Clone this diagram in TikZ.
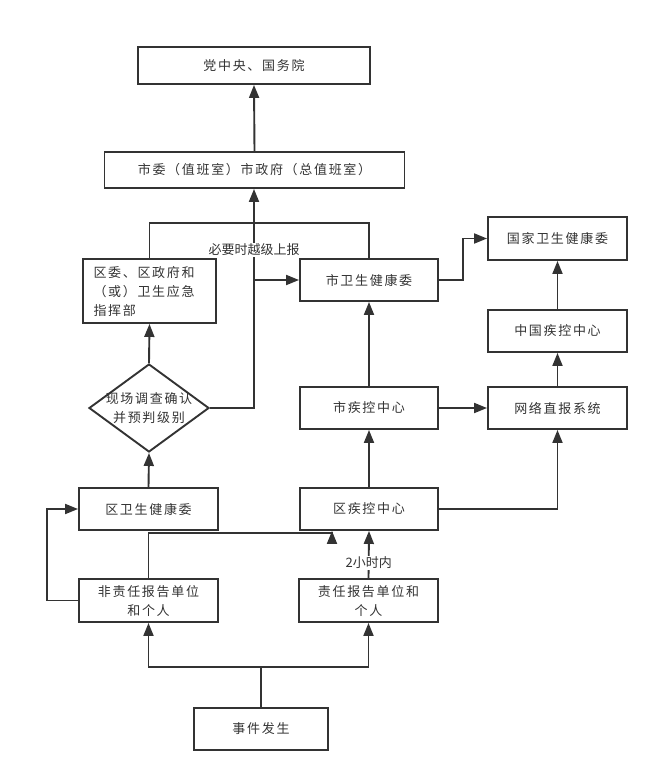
\documentclass[tikz,border=0pt]{standalone}
\usepackage{fontspec}
\setmainfont{Noto Sans CJK SC}[LetterSpace=13]
\newfontfamily\lblfont{Noto Sans CJK SC}
\usetikzlibrary{arrows.meta,shapes.geometric}
\definecolor{ink}{HTML}{333333}

\begin{document}
\begin{tikzpicture}[x=1pt, y=-1pt, line width=1.9pt, draw=ink, text=ink,
    font=\fontsize{13pt}{19pt}\selectfont,
    box/.style={draw, rectangle, inner sep=0pt, align=center},
    arr/.style={-{Triangle[length=13pt, width=10pt]}},
    lbl/.style={fill=white, inner sep=1pt, font=\lblfont\fontsize{13pt}{15pt}\selectfont}]
        \useasboundingbox (0, 0) rectangle (658, 782);

        % Boxes
        \node[box, minimum width=232pt, minimum height=37pt] (central) at (254, 65.5) {党中央、国务院};
        \node[box, minimum width=300pt, minimum height=36pt] (citygov) at (254.5, 170) {市委（值班室）市政府（总值班室）};
        \node[box, minimum height=64pt, text width=112pt, inner xsep=10.5pt, align=left] (district) at (149.5, 291) {区委、区政府和\\（或）卫生应急\\指挥部};
        \node[box, minimum width=138pt, minimum height=42pt] (cityhealth) at (369, 280) {市卫生健康委};
        \node[draw, diamond, minimum width=120pt, minimum height=88pt, inner sep=0pt] (judge) at (149, 408) {};
        \node[align=center, inner sep=0pt] (judgetext) at (judge) {现场调查确认\\并预判级别};
        \node[box, minimum width=138pt, minimum height=42pt] (citycdc) at (369, 408) {市疾控中心};
        \node[box, minimum width=139pt, minimum height=43pt] (nathealth) at (557.5, 238.5) {国家卫生健康委};
        \node[box, minimum width=139pt, minimum height=42pt] (chinacdc) at (557.5, 331) {中国疾控中心};
        \node[box, minimum width=139pt, minimum height=42pt] (netreport) at (557.5, 408) {网络直报系统};
        \node[box, minimum width=139pt, minimum height=42pt] (dhealth) at (148.5, 509) {区卫生健康委};
        \node[box, minimum width=138pt, minimum height=42pt] (qcdc) at (369, 509) {区疾控中心};
        \node[box, minimum width=139pt, minimum height=43pt] (nonduty) at (148.5, 600.5) {非责任报告单位\\和个人};
        \node[box, minimum width=139pt, minimum height=43pt] (duty) at (368.5, 600.5) {责任报告单位和\\个人};
        \node[box, minimum width=134pt, minimum height=42pt] (event) at (261, 729) {事件发生};

        % Bends
        \coordinate (split) at (261, 667);
        \coordinate (bend) at (254, 280);
        \coordinate (merge) at (254, 223);

        % Bottom part
        \draw[arr] (event.north) -- (split) -| (nonduty.south);
        \draw[arr] (split) -| (duty.south);
        \draw[arr] (nonduty.west) -- ++(-31, 0) |- (dhealth.west);
        \draw[arr] (nonduty.north) -- ++(0, -45) -| ([xshift=-37pt]qcdc.south);
        \draw[arr] (duty.north) -- node[lbl, pos=0.33] (twohours) {2小时内} (qcdc.south);

        % Left column
        \draw[arr] (dhealth.north) -- (judge.south);
        \draw[arr] (judge.north) -- (district.south);
        \draw[arr] (judge.east) -| (bend) -- (cityhealth.west);
        \draw[arr] (bend) -- node[lbl, pos=0.33] (skip) {必要时越级上报} (bend |- citygov.south);
        \draw (district.north) |- (merge);
        \draw (cityhealth.north) |- (merge);
        \draw[arr] (citygov.north) -- (central.south);

        % Right columns
        \draw[arr] (qcdc.north) -- (citycdc.south);
        \draw[arr] (citycdc.north) -- (cityhealth.south);
        \draw[arr] (citycdc.east) -- (netreport.west);
        \draw[arr] (qcdc.east) -| (netreport.south);
        \draw[arr] (netreport.north) -- (chinacdc.south);
        \draw[arr] (chinacdc.north) -- (nathealth.south);
        \draw[arr] (cityhealth.east) -- ++(24, 0) |- (nathealth.west);
      \end{tikzpicture}
\end{document}
